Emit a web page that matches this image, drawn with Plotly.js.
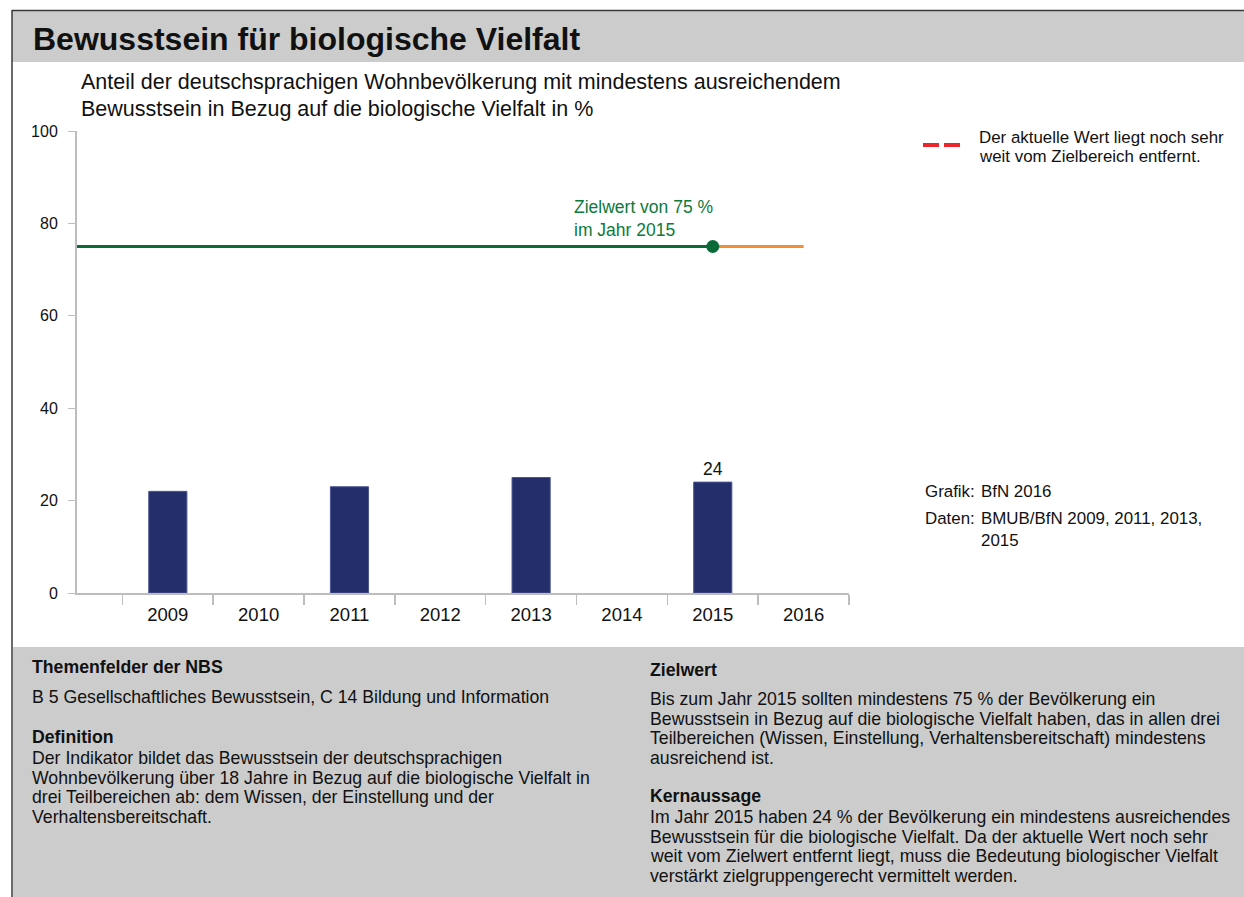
<!DOCTYPE html>
<html>
<head>
<meta charset="utf-8">
<script src="https://cdn.plot.ly/plotly-3.0.1.min.js"></script>
<style>
  html, body { margin: 0; padding: 0; background: #fff; }
  #chart { width: 1244px; height: 897px; }
</style>
</head>
<body>
<div id="chart"></div>
<script>
// survey years and share of population (%)
const years = [2009, 2011, 2013, 2015];
const shares = [22, 23, 25, 24];
const labels = ['', '', '', '24'];

// target line: 75 % by 2015, continued to 2016
const targetValue = 75;
const targetYears = [2008, 2015];
const afterYears = [2015, 2016];
const tickYears = [2009, 2010, 2011, 2012, 2013, 2014, 2015, 2016];

const font = 'Liberation Sans, Arial, sans-serif';
const W = 1244, H = 897;
const px = x => x / W;
const py = y => 1 - y / H;

const traces = [
  {
    type: 'bar', x: years, y: shares, width: 0.42,
    marker: { color: '#242e6a', line: { color: '#4b5590', width: 1 } },
    text: labels, textposition: 'outside', cliponaxis: false,
    textfont: { size: 17.5, color: '#111', family: font },
    showlegend: false
  },
  {
    type: 'scatter', mode: 'lines', x: targetYears, y: targetYears.map(() => targetValue),
    line: { color: '#0b6b38', width: 3 }, showlegend: false
  },
  {
    type: 'scatter', mode: 'lines', x: afterYears, y: afterYears.map(() => targetValue),
    line: { color: '#f28e36', width: 3 }, showlegend: false
  },
  {
    type: 'scatter', mode: 'markers', x: [2015], y: [targetValue],
    marker: { color: '#0b6b38', size: 13 }, showlegend: false
  }
];

const txt = { size: 17.7, family: font, color: '#111' };
const side = { size: 16.9, family: font, color: '#111' };

// text blocks in the lower panel, one line each
function block(x, y0, heading, lines, start, out) {
  out.push({ xref: 'paper', yref: 'paper', x: px(x), y: py(y0), xanchor: 'left', yanchor: 'middle',
    text: '<b>' + heading + '</b>', showarrow: false, font: txt });
  lines.forEach((t, i) => out.push({ xref: 'paper', yref: 'paper', x: px(x), y: py(start + i * 19.7),
    xanchor: 'left', yanchor: 'middle', text: t, showarrow: false, font: txt }));
}

const ann = [
  { xref: 'paper', yref: 'paper', x: px(31), y: py(39), xanchor: 'left', yanchor: 'middle',
    text: '<b>Bewusstsein für biologische Vielfalt</b>', showarrow: false,
    font: { size: 32, family: font, color: '#111' } },
  { xref: 'paper', yref: 'paper', x: px(79), y: py(82), xanchor: 'left', yanchor: 'middle',
    text: 'Anteil der deutschsprachigen Wohnbevölkerung mit mindestens ausreichendem', showarrow: false,
    font: { size: 21.5, family: font, color: '#111' } },
  { xref: 'paper', yref: 'paper', x: px(79), y: py(109), xanchor: 'left', yanchor: 'middle',
    text: 'Bewusstsein in Bezug auf die biologische Vielfalt in %', showarrow: false,
    font: { size: 21.5, family: font, color: '#111' } },
  { xref: 'x', yref: 'y', x: 2013.45, y: targetValue, xanchor: 'left', yanchor: 'bottom', yshift: 5,
    text: 'Zielwert von 75 %<br>im Jahr 2015', align: 'left', showarrow: false,
    font: { size: 17.5, family: font, color: '#0b7a3b' } },
  { xref: 'paper', yref: 'paper', x: px(977), y: py(137), xanchor: 'left', yanchor: 'middle',
    text: 'Der aktuelle Wert liegt noch sehr', showarrow: false, font: side },
  { xref: 'paper', yref: 'paper', x: px(977), y: py(156), xanchor: 'left', yanchor: 'middle',
    text: 'weit vom Zielbereich entfernt.', showarrow: false, font: side },
  { xref: 'paper', yref: 'paper', x: px(977), y: py(492), xanchor: 'right', yanchor: 'middle',
    text: 'Grafik:', showarrow: false, font: side },
  { xref: 'paper', yref: 'paper', x: px(979), y: py(492), xanchor: 'left', yanchor: 'middle',
    text: 'BfN 2016', showarrow: false, font: side },
  { xref: 'paper', yref: 'paper', x: px(977), y: py(518), xanchor: 'right', yanchor: 'middle',
    text: 'Daten:', showarrow: false, font: side },
  { xref: 'paper', yref: 'paper', x: px(979), y: py(518), xanchor: 'left', yanchor: 'middle',
    text: 'BMUB/BfN 2009, 2011, 2013,', showarrow: false, font: side },
  { xref: 'paper', yref: 'paper', x: px(979), y: py(540), xanchor: 'left', yanchor: 'middle',
    text: '2015', showarrow: false, font: side }
];

block(30, 667, 'Themenfelder der NBS',
  ['B 5 Gesellschaftliches Bewusstsein, C 14 Bildung und Information'], 697, ann);
block(30, 737, 'Definition',
  ['Der Indikator bildet das Bewusstsein der deutschsprachigen',
   'Wohnbevölkerung über 18 Jahre in Bezug auf die biologische Vielfalt in',
   'drei Teilbereichen ab: dem Wissen, der Einstellung und der',
   'Verhaltensbereitschaft.'], 758, ann);
block(648, 670, 'Zielwert',
  ['Bis zum Jahr 2015 sollten mindestens 75 % der Bevölkerung ein',
   'Bewusstsein in Bezug auf die biologische Vielfalt haben, das in allen drei',
   'Teilbereichen (Wissen, Einstellung, Verhaltensbereitschaft) mindestens',
   'ausreichend ist.'], 699, ann);
block(648, 796, 'Kernaussage',
  ['Im Jahr 2015 haben 24 % der Bevölkerung ein mindestens ausreichendes',
   'Bewusstsein für die biologische Vielfalt. Da der aktuelle Wert noch sehr',
   'weit vom Zielwert entfernt liegt, muss die Bedeutung biologischer Vielfalt',
   'verstärkt zielgruppengerecht vermittelt werden.'], 817, ann);

const layout = {
  width: W, height: H,
  margin: { l: 0, r: 0, t: 0, b: 0 },
  paper_bgcolor: '#ffffff', plot_bgcolor: 'rgba(0,0,0,0)',
  font: { family: font, color: '#111', size: 17 },
  showlegend: false,
  xaxis: {
    domain: [px(77), px(849)], range: [2008, 2016.5],
    tickmode: 'array', tickvals: tickYears, ticktext: tickYears.map(String),
    ticks: '', ticklabelstandoff: 4, showgrid: false, zeroline: false,
    showline: true, linecolor: '#bdbdbd', linewidth: 2,
    tickfont: { size: 18.5, family: font, color: '#111' },
    minor: { tickmode: 'linear', tick0: 2008.5, dtick: 1, ticks: 'outside', ticklen: 10,
      tickcolor: '#bdbdbd', tickwidth: 1.5, showgrid: false }
  },
  yaxis: {
    domain: [py(593), py(131)], range: [0, 100],
    tickvals: [0, 20, 40, 60, 80, 100], ticks: 'outside', ticklen: 7, tickcolor: '#bdbdbd',
    ticklabelstandoff: 7, showgrid: false, zeroline: false,
    showline: true, linecolor: '#bdbdbd', linewidth: 2,
    tickfont: { size: 16, family: font, color: '#111' }
  },
  shapes: [
    { type: 'rect', xref: 'paper', yref: 'paper', x0: px(12), x1: 1, y0: py(62), y1: py(11),
      fillcolor: '#cbcccb', line: { width: 0 }, layer: 'below' },
    { type: 'rect', xref: 'paper', yref: 'paper', x0: px(13), x1: 1, y0: 0, y1: py(647),
      fillcolor: '#cbcccb', line: { width: 0 }, layer: 'below' },
    { type: 'line', xref: 'paper', yref: 'paper', x0: px(12), x1: 1, y0: py(10.5), y1: py(10.5),
      line: { color: '#3a3a3a', width: 1.5 } },
    { type: 'line', xref: 'paper', yref: 'paper', x0: px(12), x1: px(12), y0: 0, y1: py(10),
      line: { color: '#3a3a3a', width: 1.5 } },
    // legend key: red dashed line
    { type: 'line', xref: 'paper', yref: 'paper', x0: px(923), x1: px(961), y0: py(145), y1: py(145),
      line: { color: '#e8262c', width: 4, dash: '16px,5px' } }
  ],
  annotations: ann
};

Plotly.newPlot('chart', traces, layout, { displayModeBar: false, staticPlot: true });
</script>
</body>
</html>
